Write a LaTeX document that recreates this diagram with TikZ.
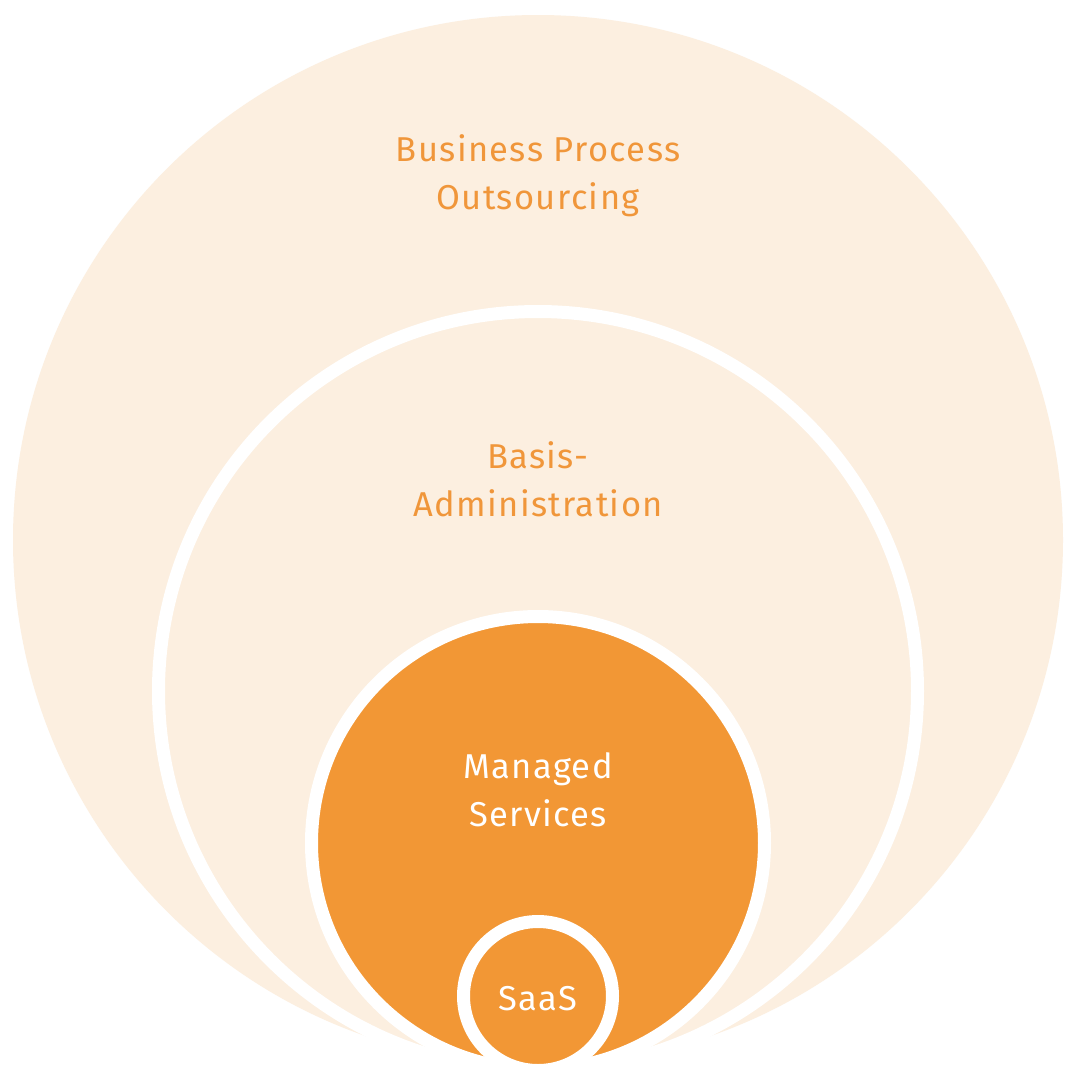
\documentclass[tikz,border=0pt]{standalone}
\usepackage{fontspec}
\setmainfont{Fira Sans}[LetterSpace=4]
\definecolor{lightor}{HTML}{FCEFE0}
\definecolor{darkor}{HTML}{F29735}
\definecolor{txtor}{HTML}{F0963A}
\begin{document}
\begin{tikzpicture}[x=1pt,y=-1pt,
  ring/.style={draw=white,line width=13pt},
  lbl/.style={align=center,font=\fontsize{34.5}{48}\selectfont,inner sep=0pt}]
\useasboundingbox[fill=white] (0,0) rectangle (1076,1080);
\fill[lightor] (538,540) circle[radius=525];
\path[ring,fill=lightor] (538,691) circle[radius=379.5];
\path[ring,fill=darkor] (538,843) circle[radius=226.5];
\path[ring,fill=darkor] (538,996) circle[radius=74.5];
\node[lbl,text=txtor] (bpo) at (538,176) {Business Process\\Outsourcing};
\node[lbl,text=txtor] (basis) at (538,479) {Basis-\\Administration};
\node[lbl,text=white] (ms) at (538,790) {Managed\\Services};
\node[lbl,text=white,anchor=base] (saas) at (538,1010) {SaaS};
\end{tikzpicture}
\end{document}
